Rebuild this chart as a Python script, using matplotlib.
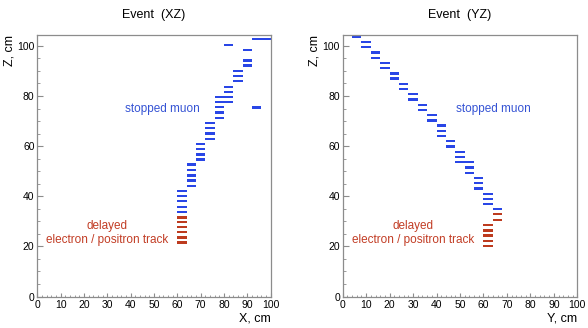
import matplotlib
matplotlib.use("Agg")
import matplotlib.pyplot as plt
from matplotlib.ticker import MultipleLocator

plt.rcParams['font.family'] = ['Liberation Sans', 'DejaVu Sans']

BLUE = '#2946e6'
RED = '#bd3b1f'
TEXT_BLUE = '#3553d4'
TEXT_RED = '#c23d25'
FRAME = '#8c8c8c'

# strips are 4 cm wide; x / y value is the left edge of the strip
strip_width = 4

# XZ view
xz_muon_x = [60, 60, 60, 60, 60,
             64, 64, 64, 64, 64,
             68, 68, 68, 68,
             72, 72, 72, 72,
             76, 76, 76, 76, 76,
             80, 80, 80, 80, 80,
             84, 84, 84,
             88, 88, 88,
             92, 92, 96]
xz_muon_z = [42.2, 40.1, 38.0, 35.8, 33.8,
             52.6, 50.4, 48.3, 46.3, 44.2,
             60.8, 58.8, 56.7, 54.7,
             69.3, 67.2, 65.1, 62.9,
             79.7, 77.6, 75.6, 73.4, 71.3,
             83.7, 81.7, 79.7, 77.6, 100.4,
             90.0, 87.9, 85.9,
             98.3, 94.2, 92.2,
             75.4, 102.7, 102.7]
xz_elec_x = [60, 60, 60, 60, 60, 60]
xz_elec_z = [31.6, 29.7, 27.7, 25.7, 23.6, 21.6]

# YZ view
yz_muon_y = [4,
             8, 8,
             12, 12,
             16, 16,
             20, 20,
             24, 24,
             28, 28,
             32, 32,
             36, 36,
             40, 40, 40,
             44, 44,
             48, 48, 48,
             52, 52, 52,
             56, 56, 56,
             60, 60, 60,
             64]
yz_muon_z = [103.7,
             101.5, 99.5,
             97.4, 95.2,
             93.2, 91.1,
             89.0, 87.0,
             84.8, 82.7,
             80.7, 78.6,
             76.5, 74.4,
             72.4, 70.3,
             68.3, 66.1, 64.0,
             62.0, 59.9,
             57.7, 55.7, 53.6,
             53.6, 51.5, 49.4,
             47.4, 45.3, 43.1,
             41.0, 39.0, 36.9,
             34.8]
yz_elec_y = [64, 64, 60, 60, 60, 60, 60]
yz_elec_z = [32.8, 30.6, 28.5, 26.4, 24.4, 22.2, 20.1]

fig = plt.figure(figsize=(5.88, 3.28), dpi=100)
ax1 = fig.add_axes([0.0634, 0.096, 0.397, 0.797])
ax2 = fig.add_axes([0.5828, 0.096, 0.399, 0.797])


def draw_view(ax, muon_h, muon_z, elec_h, elec_z, title, hlabel):
    ax.barh(muon_z, strip_width, left=muon_h, height=0.95, color=BLUE,
            align='center', linewidth=0)
    ax.barh(elec_z, strip_width, left=elec_h, height=0.95, color=RED,
            align='center', linewidth=0)
    ax.set_xlim(0, 100)
    ax.set_ylim(0, 104.3)
    ax.xaxis.set_major_locator(MultipleLocator(10))
    ax.xaxis.set_minor_locator(MultipleLocator(2))
    ax.yaxis.set_major_locator(MultipleLocator(20))
    ax.yaxis.set_minor_locator(MultipleLocator(5))
    ax.tick_params(axis='both', which='both', direction='in', color=FRAME,
                   labelsize=7.5, top=False, right=False)
    ax.tick_params(axis='x', which='major', length=3.2, pad=2.5)
    ax.tick_params(axis='x', which='minor', length=1.6)
    ax.tick_params(axis='y', which='major', length=4, pad=2)
    ax.tick_params(axis='y', which='minor', length=2)
    for s in ax.spines.values():
        s.set_color(FRAME)
        s.set_linewidth(0.9)
    ax.set_title(title, fontsize=9, pad=12)
    ax.set_xlabel(hlabel, fontsize=9, loc='right')
    ax.xaxis.set_label_coords(1.0, -0.06)
    ax.set_ylabel('Z, cm', fontsize=9, loc='top')
    ax.yaxis.set_label_coords(-0.095, 1.0)
    ax.text(0.3, 0.27, 'delayed', transform=ax.transAxes, fontsize=8.5,
            color=TEXT_RED, ha='center', va='center')
    ax.text(0.3, 0.215, 'electron / positron track', transform=ax.transAxes,
            fontsize=8.5, color=TEXT_RED, ha='center', va='center')


draw_view(ax1, xz_muon_x, xz_muon_z, xz_elec_x, xz_elec_z, 'Event  (XZ)', 'X, cm')
draw_view(ax2, yz_muon_y, yz_muon_z, yz_elec_y, yz_elec_z, 'Event  (YZ)', 'Y, cm')

ax1.text(0.538, 0.717, 'stopped muon', transform=ax1.transAxes, fontsize=8.5,
         color=TEXT_BLUE, ha='center', va='center')
ax2.text(0.641, 0.717, 'stopped muon', transform=ax2.transAxes, fontsize=8.5,
         color=TEXT_BLUE, ha='center', va='center')

fig.savefig('out.png', dpi=100)
